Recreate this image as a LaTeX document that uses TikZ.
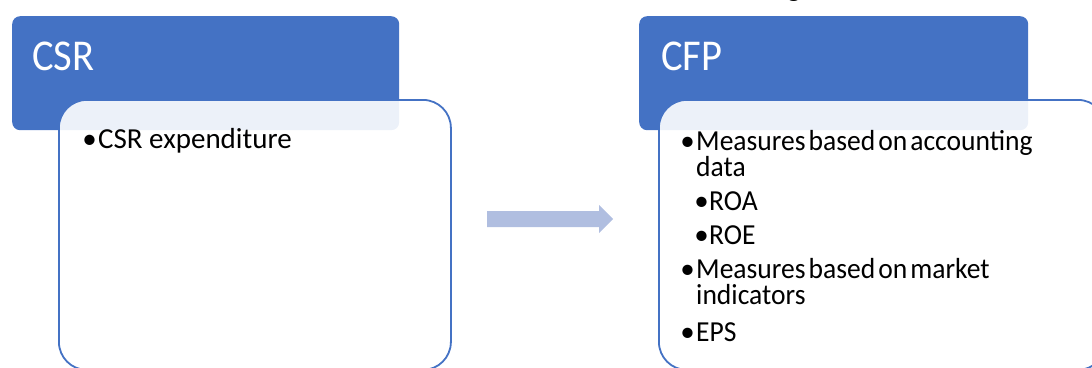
\documentclass[tikz,border=0pt]{standalone}
\usepackage{fontspec}
\usepackage{graphicx}
\setmainfont{Carlito}
\definecolor{accent}{RGB}{68,114,196}
\definecolor{arrowfill}{RGB}{176,190,224}
\newcommand{\mybul}{\llap{\textbullet\hspace{1.5pt}}}
\newcommand{\subbul}{\llap{\textbullet\hspace{0.5pt}}}
\newcommand{\sq}[1]{\scalebox{0.95}[1]{\spaceskip=3.2pt #1}}
\newcommand{\hd}[1]{\scalebox{0.92}[1]{#1}}
\begin{document}
\begin{tikzpicture}[x=1pt,y=-1pt,
  hdr/.style={fill=accent, rounded corners=8pt, inner sep=0pt, anchor=north west},
  card/.style={draw=accent, line width=1.8pt, fill=white, fill opacity=0.9, rounded corners=28pt, inner sep=0pt, anchor=north west},
  hdrtext/.style={text=white, font=\fontsize{44}{52}\selectfont, inner sep=0pt, anchor=base west},
  body/.style={text=black, font=\fontsize{29}{26}\selectfont, inner sep=0pt, anchor=base west},
  wrapped/.style={body, align=left}]
\useasboundingbox (0,0) rectangle (1092,367);
\clip (0,0) rectangle (1092,367);
% title fragment
\node[body, anchor=base] (frag) at (794,-4) {g};
% left group
\node[hdr, minimum width=387pt, minimum height=114pt] (csrH) at (12,16) {};
\node[card, minimum width=392pt, minimum height=270pt] (csrB) at (58,99) {};
\node[hdrtext] (csrT) at (32,70) {\hd{CSR}};
\node[body] (l1) at (98,148) {\mybul CSR expenditure};
% arrow
\coordinate (a1) at (487,211);
\coordinate (a2) at (599,211);
\coordinate (a3) at (599,205);
\coordinate (a4) at (613,219);
\coordinate (a5) at (599,233);
\coordinate (a6) at (599,227);
\coordinate (a7) at (487,227);
\fill[arrowfill] (a1) -- (a2) -- (a3) -- (a4) -- (a5) -- (a6) -- (a7) -- cycle;
% right group
\node[hdr, minimum width=389pt, minimum height=114pt] (cfpH) at (639,16) {};
\node[card, minimum width=447pt, minimum height=270pt] (cfpB) at (658,99) {};
\node[hdrtext] (cfpT) at (661,70) {\hd{CFP}};
\node[wrapped] (r1) at (696,176) {\mybul\sq{Measures based on accounting}\\\sq{data}};
\node[body] (r3) at (709,210) {\subbul\sq{ROA}};
\node[body] (r4) at (709,244) {\subbul\sq{ROE}};
\node[wrapped] (r5) at (696,304) {\mybul\sq{Measures based on market}\\\sq{indicators}};
\node[body] (r7) at (696,341) {\mybul\sq{EPS}};
\end{tikzpicture}
\end{document}
